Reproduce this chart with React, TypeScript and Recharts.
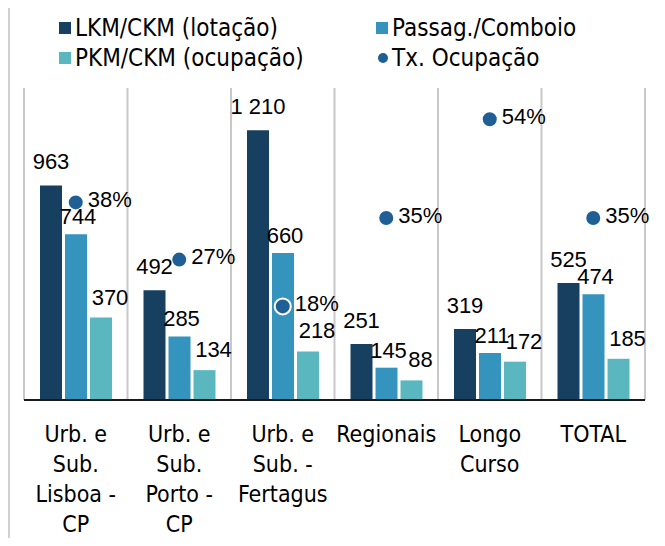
import { ComposedChart, Bar, Line, XAxis, YAxis, CartesianGrid, LabelList } from "recharts";

// tick labels, wrapped as in the picture
const categories = [
  "Urb. e\nSub.\nLisboa -\nCP",
  "Urb. e\nSub.\nPorto -\nCP",
  "Urb. e\nSub. -\nFertagus",
  "Regionais",
  "Longo\nCurso",
  "TOTAL",
];
const lotacao = [963, 492, 1210, 251, 319, 525]; // LKM/CKM (lotação)
const passageiros = [744, 285, 660, 145, 211, 474]; // Passag./Comboio
const ocupacao = [370, 134, 218, 88, 172, 185]; // PKM/CKM (ocupação)
const taxa = [0.38, 0.27, 0.18, 0.35, 0.54, 0.35]; // Tx. Ocupação

const data = categories.map((name, i) => ({
  name,
  lotacao: lotacao[i],
  passageiros: passageiros[i],
  ocupacao: ocupacao[i],
  taxa: taxa[i],
}));

const DARK = "#173f5f";
const MID = "#3594bd";
const LIGHT = "#5ab7c0";
const DOT = "#1f5f96";

const NARROW = '"DejaVu Sans Condensed", "Liberation Sans", Arial, sans-serif';
const LABEL_FONT = '"Liberation Sans", Arial, sans-serif';

// thousands with a non-breaking space, so "1 210" stays on one line
const fmtNum = (v: number) => String(v).replace(/\B(?=(\d{3})+(?!\d))/g, "\u00a0");
const fmtPct = (v: number) => Math.round(v * 100) + "%";

const CategoryTick = (props: any) => {
  const { x, y, payload } = props;
  const lines = String(payload.value).split("\n");
  return (
    <text x={x} y={y} textAnchor="middle" fontSize={23} fontFamily={NARROW} fill="#000">
      {lines.map((l, i) => (
        <tspan key={i} x={x} dy={i === 0 ? 40 : 30}>
          {l}
        </tspan>
      ))}
    </text>
  );
};

const legendItems = [
  { label: "LKM/CKM (lotação)", color: DARK, shape: "square", left: 59, top: 13 },
  { label: "Passag./Comboio", color: MID, shape: "square", left: 376, top: 13 },
  { label: "PKM/CKM (ocupação)", color: LIGHT, shape: "square", left: 59, top: 43 },
  { label: "Tx. Ocupação", color: DOT, shape: "circle", left: 376, top: 43 },
];

const labelFont = { fontSize: 22, fontFamily: LABEL_FONT, fill: "#000" };

export default function App() {
  return (
    <div style={{ position: "relative", width: 665, height: 546, margin: -8, background: "#fff" }}>
      <div
        style={{
          position: "absolute",
          left: 8,
          top: 1,
          right: 0,
          bottom: 0,
          borderTop: "2px solid #d0d0d0",
          borderLeft: "2px solid #d0d0d0",
        }}
      />
      {legendItems.map((it) => (
        <div
          key={it.label}
          style={{
            position: "absolute",
            left: it.left,
            top: it.top,
            height: 30,
            display: "flex",
            alignItems: "center",
            fontFamily: NARROW,
            fontSize: 24,
            color: "#000",
            whiteSpace: "nowrap",
          }}
        >
          <span
            style={{
              display: "inline-block",
              width: it.shape === "circle" ? 10 : 12,
              height: it.shape === "circle" ? 10 : 12,
              borderRadius: it.shape === "circle" ? "50%" : 0,
              background: it.color,
              marginRight: 4,
              marginLeft: it.shape === "circle" ? 2 : 0,
            }}
          />
          {it.label}
        </div>
      ))}
      <div style={{ position: "absolute", left: 0, top: 0 }}>
        <ComposedChart
          width={665}
          height={546}
          data={data}
          margin={{ top: 88, right: 20, bottom: 0, left: 24 }}
          barCategoryGap={16}
          barGap={3}
        >
          <CartesianGrid
            horizontal={false}
            stroke="#c8c8c8"
            strokeWidth={2}
            verticalCoordinatesGenerator={({ offset }: any) =>
              Array.from({ length: categories.length + 1 }, (_, i) => offset.left + (i * offset.width) / categories.length)
            }
          />
          <XAxis
            dataKey="name"
            height={146}
            interval={0}
            tickLine={false}
            tickSize={0}
            axisLine={{ stroke: "#1a1a1a", strokeWidth: 2 }}
            tick={<CategoryTick />}
          />
          <YAxis yAxisId="left" hide domain={[0, 1400]} />
          <YAxis yAxisId="right" orientation="right" hide domain={[0, 0.6]} />
          <Bar yAxisId="left" dataKey="lotacao" fill={DARK} isAnimationActive={false}>
            <LabelList dataKey="lotacao" position="top" offset={16} formatter={fmtNum} {...labelFont} />
          </Bar>
          <Bar yAxisId="left" dataKey="passageiros" fill={MID} isAnimationActive={false}>
            <LabelList dataKey="passageiros" position="top" offset={10} dx={2} formatter={fmtNum} {...labelFont} />
          </Bar>
          <Bar yAxisId="left" dataKey="ocupacao" fill={LIGHT} isAnimationActive={false}>
            <LabelList dataKey="ocupacao" position="top" offset={13} dx={9} formatter={fmtNum} {...labelFont} />
          </Bar>
          <Line
            yAxisId="right"
            dataKey="taxa"
            stroke="none"
            dot={{ r: 8, fill: DOT, stroke: "#fff", strokeWidth: 2 }}
            activeDot={false}
            isAnimationActive={false}
          >
            <LabelList dataKey="taxa" position="right" offset={12} dy={-3} formatter={fmtPct} {...labelFont} />
          </Line>
        </ComposedChart>
      </div>
    </div>
  );
}
